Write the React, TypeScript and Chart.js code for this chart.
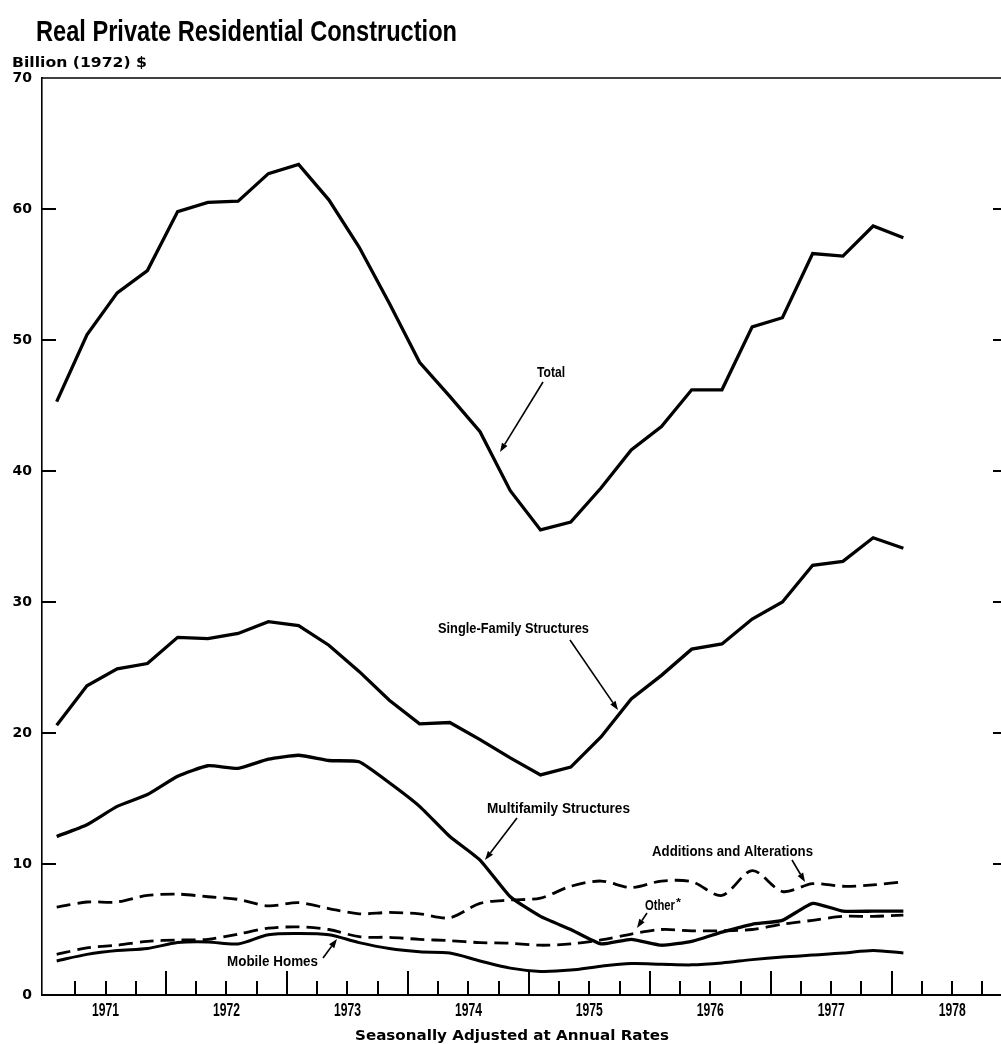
import React, { useEffect, useRef } from "react";
import { Chart, registerables } from "chart.js";

Chart.register(...registerables);

// Quarterly observations (x position = index in this list)
const quarters = [
  "1971 Q1", "1971 Q2", "1971 Q3", "1971 Q4",
  "1972 Q1", "1972 Q2", "1972 Q3", "1972 Q4",
  "1973 Q1", "1973 Q2", "1973 Q3", "1973 Q4",
  "1974 Q1", "1974 Q2", "1974 Q3", "1974 Q4",
  "1975 Q1", "1975 Q2", "1975 Q3", "1975 Q4",
  "1976 Q1", "1976 Q2", "1976 Q3", "1976 Q4",
  "1977 Q1", "1977 Q2", "1977 Q3", "1977 Q4",
  "1978 Q1",
];

const yearLabels = ["1971", "1972", "1973", "1974", "1975", "1976", "1977", "1978"];
const yTickValues = [0, 10, 20, 30, 40, 50, 60, 70];

const total = [45.3, 50.4, 53.6, 55.3, 59.8, 60.5, 60.6, 62.7, 63.4, 60.7, 57.1, 52.8, 48.3, 45.7, 43.0, 38.5, 35.5, 36.1, 38.7, 41.6, 43.4, 46.2, 46.2, 51.0, 51.7, 56.6, 56.4, 58.7, 57.8];
const singleFamily = [20.6, 23.6, 24.9, 25.3, 27.3, 27.2, 27.6, 28.5, 28.2, 26.7, 24.7, 22.5, 20.7, 20.8, 19.5, 18.1, 16.8, 17.4, 19.7, 22.6, 24.4, 26.4, 26.8, 28.7, 30.0, 32.8, 33.1, 34.9, 34.1];
const multifamily = [12.1, 13.0, 14.4, 15.3, 16.7, 17.5, 17.3, 18.0, 18.3, 17.9, 17.8, 16.2, 14.4, 12.1, 10.3, 7.5, 6.0, 5.0, 3.9, 4.25, 3.8, 4.1, 4.8, 5.4, 5.7, 7.0, 6.4, 6.4, 6.4];
const additions = [6.7, 7.1, 7.1, 7.6, 7.7, 7.5, 7.3, 6.8, 7.05, 6.6, 6.2, 6.3, 6.2, 5.9, 7.0, 7.25, 7.4, 8.3, 8.7, 8.2, 8.7, 8.65, 7.6, 9.5, 7.9, 8.5, 8.3, 8.4, 8.65];
const other = [3.1, 3.6, 3.8, 4.1, 4.2, 4.25, 4.65, 5.1, 5.2, 5.0, 4.45, 4.4, 4.25, 4.15, 4.0, 3.95, 3.8, 3.9, 4.2, 4.65, 5.0, 4.9, 4.9, 5.0, 5.4, 5.7, 6.0, 6.0, 6.1];
const mobileHomes = [2.6, 3.1, 3.4, 3.55, 4.0, 4.05, 3.9, 4.6, 4.7, 4.6, 4.0, 3.55, 3.3, 3.2, 2.6, 2.05, 1.8, 1.9, 2.2, 2.4, 2.35, 2.3, 2.45, 2.7, 2.9, 3.05, 3.2, 3.4, 3.2];

const seriesLabels = ["Total", "Single-Family Structures", "Multifamily Structures", "Additions and Alterations", "Other*", "Mobile Homes"];

const X_MIN = -0.486;
const X_MAX = 31.46;
const YEAR_START_OFFSET = -0.385; // position of first quarter boundary (start of 1971)

const CONDENSED = 'bold 15px "Liberation Sans", Arial, sans-serif';
const GEOMETRIC = '"DejaVu Sans", Verdana, sans-serif';

function fitText(ctx: CanvasRenderingContext2D, text: string, x: number, y: number, font: string, width: number, align: "left" | "center" = "left") {
  ctx.save();
  ctx.font = font;
  ctx.textAlign = "left";
  ctx.textBaseline = "alphabetic";
  const w = ctx.measureText(text).width;
  const s = w > 0 ? width / w : 1;
  ctx.translate(align === "center" ? x - width / 2 : x, y);
  ctx.scale(s, 1);
  ctx.fillStyle = "#000";
  ctx.fillText(text, 0, 0);
  ctx.restore();
}

function arrow(ctx: CanvasRenderingContext2D, x1: number, y1: number, x2: number, y2: number) {
  const ang = Math.atan2(y2 - y1, x2 - x1);
  const len = 9;
  const hw = 3.2;
  const bx = x2 - len * Math.cos(ang);
  const by = y2 - len * Math.sin(ang);
  ctx.save();
  ctx.strokeStyle = "#000";
  ctx.fillStyle = "#000";
  ctx.lineWidth = 1.6;
  ctx.beginPath();
  ctx.moveTo(x1, y1);
  ctx.lineTo(bx, by);
  ctx.stroke();
  ctx.beginPath();
  ctx.moveTo(x2, y2);
  ctx.lineTo(bx + hw * Math.sin(ang), by - hw * Math.cos(ang));
  ctx.lineTo(bx - hw * Math.sin(ang), by + hw * Math.cos(ang));
  ctx.closePath();
  ctx.fill();
  ctx.restore();
}

const decorPlugin = {
  id: "decor",
  afterDraw(chart: any) {
    const { ctx, chartArea: ca, scales } = chart;
    const x = scales.x;
    const y = scales.y;
    ctx.save();
    ctx.strokeStyle = "#000";
    ctx.lineCap = "butt";

    // top frame line
    ctx.lineWidth = 1.6;
    ctx.beginPath();
    ctx.moveTo(ca.left, ca.top);
    ctx.lineTo(ca.right, ca.top);
    ctx.stroke();
    // right frame line
    ctx.beginPath();
    ctx.moveTo(ca.right, ca.top);
    ctx.lineTo(ca.right, ca.bottom);
    ctx.stroke();

    // quarter ticks along bottom, pointing up
    ctx.lineWidth = 2;
    for (let k = 1; k < 40; k++) {
      const v = YEAR_START_OFFSET + k;
      if (v >= x.max) break;
      const px = Math.round(x.getPixelForValue(v));
      const tall = k % 4 === 0;
      ctx.beginPath();
      ctx.moveTo(px, ca.bottom);
      ctx.lineTo(px, ca.bottom - (tall ? 24 : 14));
      ctx.stroke();
    }

    // y ticks on left and right, pointing inward
    for (const v of yTickValues) {
      if (v === 0 || v === 70) continue;
      const py = Math.round(y.getPixelForValue(v));
      ctx.beginPath();
      ctx.moveTo(ca.left, py);
      ctx.lineTo(ca.left + 14, py);
      ctx.stroke();
      ctx.beginPath();
      ctx.moveTo(ca.right - 15, py);
      ctx.lineTo(ca.right, py);
      ctx.stroke();
    }
    ctx.restore();

    // Year labels, condensed, centred in each year span
    x.ticks.forEach((t: any, k: number) => {
      const px = x.getPixelForValue(t.value);
      fitText(ctx, yearLabels[k], px, 1016, 'bold 18px "Liberation Sans", Arial, sans-serif', 27, "center");
    });

    // Titles
    fitText(ctx, "Real Private Residential Construction", 36, 41, 'bold 30px "Liberation Sans", Arial, sans-serif', 421);
    fitText(ctx, "Billion (1972) $", 12, 67, "bold 14px " + GEOMETRIC, 135);
    fitText(ctx, "Seasonally Adjusted at Annual Rates", 355, 1040, "bold 14px " + GEOMETRIC, 314);

    // Series labels + arrows
    fitText(ctx, seriesLabels[0], 537, 377, CONDENSED, 28);
    arrow(ctx, 543, 382, 500, 452);

    fitText(ctx, seriesLabels[1], 438, 633, CONDENSED, 151);
    arrow(ctx, 570, 640, 618, 710);

    fitText(ctx, seriesLabels[2], 487, 813, CONDENSED, 143);
    arrow(ctx, 517, 818, 485, 860);

    fitText(ctx, seriesLabels[3], 652, 856, CONDENSED, 161);
    arrow(ctx, 792, 860, 805, 882);

    fitText(ctx, "Other", 645, 910, CONDENSED, 30);
    fitText(ctx, "*", 676, 906, 'bold 11px "Liberation Sans", Arial, sans-serif', 5);
    arrow(ctx, 647, 913, 637, 928);

    fitText(ctx, seriesLabels[5], 227, 966, CONDENSED, 91);
    arrow(ctx, 323, 958, 337, 939);
  },
};

function pts(values: number[]) {
  return values.map((v, i) => ({ x: i, y: v }));
}

export default function App() {
  const canvasRef = useRef<HTMLCanvasElement | null>(null);

  useEffect(() => {
    const canvas = canvasRef.current;
    if (!canvas) return;
    const base = {
      borderColor: "#000",
      backgroundColor: "#000",
      pointRadius: 0,
      fill: false,
      borderCapStyle: "butt" as const,
      borderJoinStyle: "miter" as const,
    };
    const chart = new Chart(canvas, {
      type: "line",
      data: {
        labels: quarters,
        datasets: [
          { ...base, label: seriesLabels[0], data: pts(total), borderWidth: 3.3, tension: 0 },
          { ...base, label: seriesLabels[1], data: pts(singleFamily), borderWidth: 3.3, tension: 0 },
          { ...base, label: seriesLabels[2], data: pts(multifamily), borderWidth: 3.3, tension: 0.15 },
          { ...base, label: seriesLabels[3], data: pts(additions), borderWidth: 2.8, borderDash: [14, 7], tension: 0.3 },
          { ...base, label: seriesLabels[4], data: pts(other), borderWidth: 2.8, borderDash: [14, 7], tension: 0.3 },
          { ...base, label: seriesLabels[5], data: pts(mobileHomes), borderWidth: 3.0, tension: 0.3 },
        ],
      },
      options: {
        responsive: false,
        animation: false,
        devicePixelRatio: 1,
        layout: { padding: { top: 78, left: 0, right: 2, bottom: 0 } },
        plugins: {
          legend: { display: false },
          title: { display: false },
          tooltip: { enabled: false },
        },
        scales: {
          x: {
            type: "linear",
            min: X_MIN,
            max: X_MAX,
            grid: { display: false, drawTicks: false },
            border: { display: true, color: "#000", width: 2 },
            afterBuildTicks: (scale: any) => {
              scale.ticks = yearLabels.map((_, k) => ({ value: YEAR_START_OFFSET + 2 + 4 * k }));
            },
            afterFit: (scale: any) => {
              scale.height = 49;
            },
            ticks: {
              display: false,
              autoSkip: false,
              maxRotation: 0,
              callback: (_v: any, index: number) => yearLabels[index],
            },
          },
          y: {
            type: "linear",
            min: 0,
            max: 70,
            grid: { display: false, drawTicks: false },
            border: { display: true, color: "#000", width: 1.6 },
            afterBuildTicks: (scale: any) => {
              scale.ticks = yTickValues.map((v) => ({ value: v }));
            },
            afterFit: (scale: any) => {
              scale.width = 42;
            },
            ticks: {
              padding: 10,
              color: "#000",
              font: { family: '"DejaVu Sans", Verdana, sans-serif', size: 14, weight: "bold" },
              callback: (v: any) => String(v),
            },
          },
        },
      },
      plugins: [decorPlugin],
    } as any);
    return () => chart.destroy();
  }, []);

  return (
    <div
      style={{
        position: "absolute",
        left: 0,
        top: 0,
        width: 1001,
        height: 1044,
        overflow: "hidden",
        background: "#fff",
      }}
    >
      <canvas ref={canvasRef} width={1010} height={1044} style={{ display: "block", width: 1010, height: 1044 }} />
    </div>
  );
}
